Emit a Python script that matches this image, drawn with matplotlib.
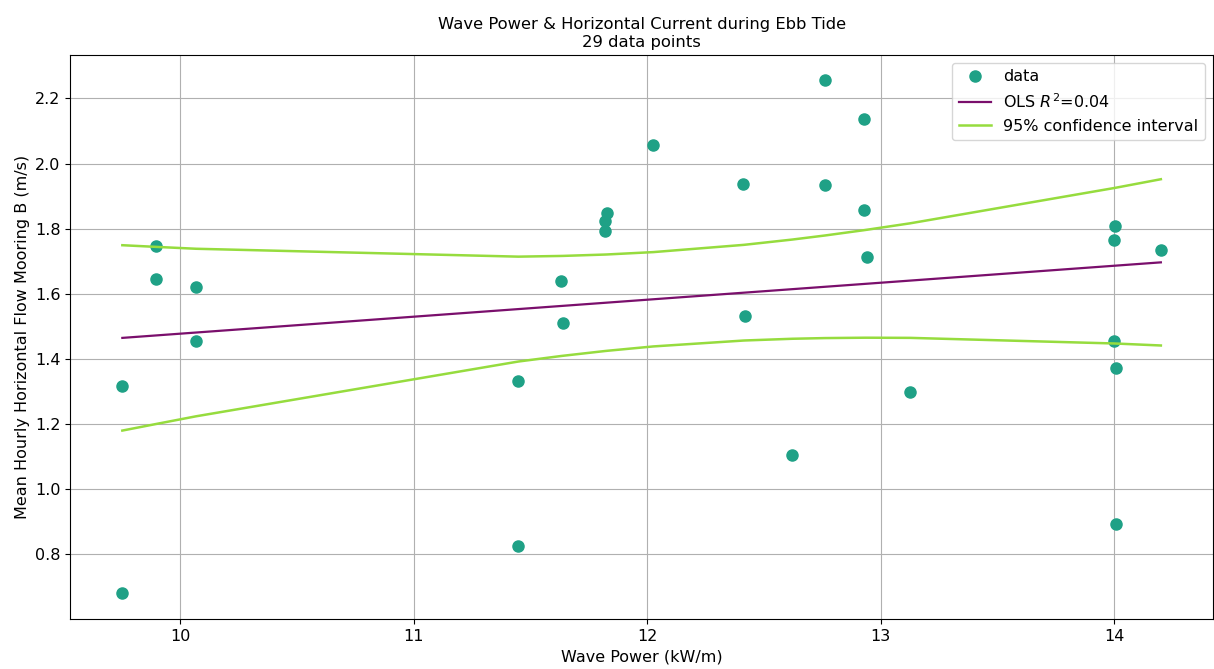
import matplotlib

matplotlib.use("Agg")

import matplotlib.pyplot as plt
import numpy as np

# Wave power (kW/m) and mean hourly horizontal flow (m/s).
wave_power = [
    9.752, 9.752, 9.897, 9.897, 10.068, 10.068, 11.448, 11.448, 11.629,
    11.639, 11.828, 11.818, 11.818, 12.026, 12.761, 12.926, 12.411, 12.761,
    12.926, 12.941, 12.420, 13.125, 12.621, 14.004, 14.000, 14.199, 14.000,
    14.009, 14.009,
]
flow_b = [
    0.679, 1.316, 1.748, 1.645, 1.621, 1.456, 1.333, 0.826, 1.638,
    1.509, 1.849, 1.822, 1.793, 2.057, 2.257, 2.137, 1.937, 1.934,
    1.857, 1.712, 1.533, 1.298, 1.104, 1.807, 1.765, 1.733, 1.456,
    1.371, 0.893,
]

T_CRIT = 2.052  # two-sided 95%, 27 dof

DATA_C = "#1fa186"
OLS_C = "#7a0f6c"
CI_C = "#96dc3e"

plt.rcParams["font.size"] = 11.5


def ols_fit(x, y):
    n = len(x)
    slope, intercept = np.polyfit(x, y, 1)
    fit = intercept + slope * x
    resid = y - fit
    r2 = 1 - np.sum(resid**2) / np.sum((y - y.mean()) ** 2)
    s = np.sqrt(np.sum(resid**2) / (n - 2))
    sxx = np.sum((x - x.mean()) ** 2)
    half = T_CRIT * s * np.sqrt(1 / n + (x - x.mean()) ** 2 / sxx)
    return fit, fit - half, fit + half, r2


def main():
    x = np.array(wave_power)
    y = np.array(flow_b)
    order = np.argsort(x, kind="stable")
    fit, lo, hi, r2 = ols_fit(x, y)

    fig = plt.figure(figsize=(12.14, 6.69), dpi=100)
    ax = fig.add_axes([0.058, 0.075, 0.941, 0.843])

    ax.plot(x, y, "o", color=DATA_C, ms=8, label="data")
    ax.plot(x[order], fit[order], "-", color=OLS_C, lw=1.6, label=f"OLS $R^2$={r2:.2f}")
    ax.plot(x[order], lo[order], "-", color=CI_C, lw=1.8, label="95% confidence interval")
    ax.plot(x[order], hi[order], "-", color=CI_C, lw=1.8)

    ax.set_ylim(0.601, 2.334)
    ax.grid(True, color="#b0b0b0", lw=0.8)
    ax.set_xlabel("Wave Power (kW/m)")
    ax.set_ylabel("Mean Hourly Horizontal Flow Mooring B (m/s)")
    ax.set_title("Wave Power & Horizontal Current during Ebb Tide\n29 data points",
                 fontsize=11.8)
    ax.legend(loc="upper right")

    fig.savefig("out.png", dpi=100)


if __name__ == "__main__":
    main()
